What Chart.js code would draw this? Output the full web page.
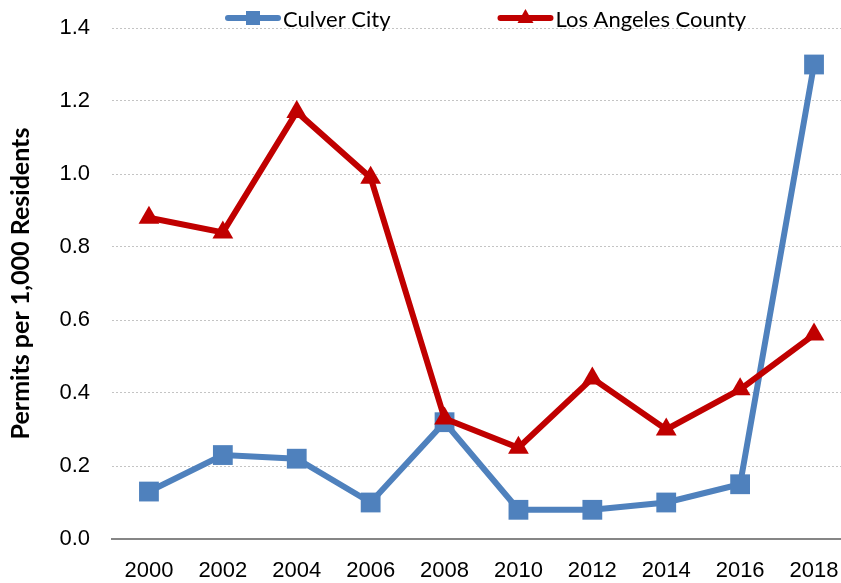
<!DOCTYPE html>
<html>
<head>
<meta charset="utf-8">
<script src="https://cdn.jsdelivr.net/npm/chart.js@4.4.1/dist/chart.umd.min.js"></script>
<style>
    html, body { margin: 0; padding: 0; background: #fff; }
    #wrap { width: 841px; height: 583px; }
</style>
</head>
<body>
<div id="wrap"><canvas id="myChart" width="841" height="583"></canvas></div>
<script>
// data
var years = [2000, 2002, 2004, 2006, 2008, 2010, 2012, 2014, 2016, 2018];
var culverCity = [0.13, 0.23, 0.22, 0.10, 0.32, 0.08, 0.08, 0.10, 0.15, 1.30];
var laCounty = [0.88, 0.84, 1.17, 0.99, 0.33, 0.25, 0.44, 0.30, 0.41, 0.56];
var yTicks = [0, 0.2, 0.4, 0.6, 0.8, 1.0, 1.2, 1.4];
var seriesNames = ["Culver City", "Los Angeles County"];
var yTitle = "Permits per 1,000 Residents";

var blue = "#4F81BD";
var red = "#C00000";

function toPoints(values) {
    var pts = [];
    for (var i = 0; i < years.length; i++) {
        pts.push({x: years[i], y: values[i]});
    }
    return pts;
}

// legend drawn by hand: line + marker + label, like the spreadsheet legend
var legendPlugin = {
    id: 'lineLegend',
    afterDraw: function(chart) {
        var ctx = chart.ctx;
        var x = 225;
        var y = 18;
        ctx.save();
        ctx.font = '22px Lato';
        ctx.textBaseline = 'alphabetic';
        ctx.textAlign = 'left';
        chart.data.datasets.forEach(function(ds, i) {
            ctx.strokeStyle = ds.borderColor;
            ctx.fillStyle = ds.borderColor;
            ctx.lineWidth = 6;
            ctx.lineCap = 'round';
            ctx.beginPath();
            ctx.moveTo(x + 3, y);
            ctx.lineTo(x + 53, y);
            ctx.stroke();
            var cx = x + 28;
            if (ds.pointStyle === 'rect') {
                ctx.fillRect(cx - 7, y - 7, 14, 14);
            } else {
                ctx.beginPath();
                ctx.moveTo(cx, y - 9);
                ctx.lineTo(cx + 8, y + 5);
                ctx.lineTo(cx - 8, y + 5);
                ctx.closePath();
                ctx.fill();
            }
            ctx.fillStyle = '#000';
            ctx.fillText(ds.label, x + 58, 27);
            x = x + 58 + ctx.measureText(ds.label).width + 107;
        });
        ctx.restore();
    }
};

var tickFont = {family: "'Liberation Sans', Arial, sans-serif", size: 22};

var mychart = new Chart(document.getElementById("myChart"), {
    type: 'line',
    data: {
        datasets: [
            {
                label: seriesNames[0],
                data: toPoints(culverCity),
                borderColor: blue,
                backgroundColor: blue,
                borderWidth: 6,
                pointStyle: 'rect',
                pointRadius: 14,
                pointHoverRadius: 14,
                pointBorderWidth: 0,
                pointBackgroundColor: blue,
                tension: 0,
                order: 1
            },
            {
                label: seriesNames[1],
                data: toPoints(laCounty),
                borderColor: red,
                backgroundColor: red,
                borderWidth: 6,
                pointStyle: 'triangle',
                pointRadius: 12,
                pointHoverRadius: 12,
                pointBorderWidth: 0,
                pointBackgroundColor: red,
                tension: 0,
                order: 0
            }
        ]
    },
    options: {
        responsive: false,
        animation: false,
        devicePixelRatio: 1,
        layout: {autoPadding: false, padding: {top: 28, left: 0, right: 0, bottom: 0}},
        plugins: {
            legend: {display: false},
            tooltip: {enabled: false}
        },
        scales: {
            x: {
                type: 'linear',
                min: 1999,
                max: 2018.73,
                afterBuildTicks: function(scale) {
                    scale.ticks = years.map(function(v) { return {value: v}; });
                },
                afterFit: function(scale) {
                    scale.height = 44;
                },
                // invisible tick marks push the labels down without adding side padding
                grid: {display: false, drawTicks: true, tickLength: 19},
                border: {display: true, color: '#868686', width: 2},
                ticks: {
                    font: tickFont,
                    color: '#000',
                    padding: 0,
                    maxRotation: 0,
                    autoSkip: false,
                    callback: function(v) { return String(v); }
                }
            },
            y: {
                min: 0,
                max: 1.4,
                afterBuildTicks: function(scale) {
                    scale.ticks = yTicks.map(function(v) { return {value: v}; });
                },
                afterFit: function(scale) { scale.width = 112; },
                grid: {color: '#c4c4c4', lineWidth: 1, drawTicks: true, tickLength: 22, tickColor: 'rgba(0,0,0,0)'},
                border: {display: false, dash: [2, 2]},
                ticks: {
                    font: tickFont,
                    color: '#000',
                    padding: 0,
                    callback: function(v) { return v.toFixed(1); }
                },
                title: {
                    display: true,
                    text: yTitle,
                    color: '#000',
                    font: {family: 'Lato', size: 25, weight: 'bold'},
                    padding: {top: 6, bottom: 0}
                }
            }
        }
    },
    plugins: [legendPlugin]
});
</script>
</body>
</html>
